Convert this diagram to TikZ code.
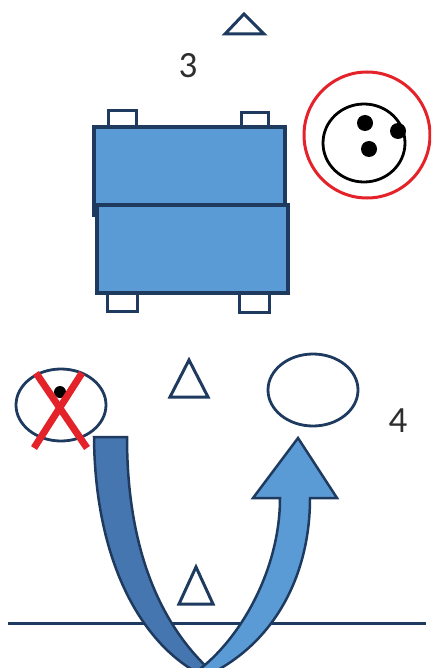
\documentclass[tikz,border=0pt]{standalone}
\usepackage{fontspec}
\setmainfont{Carlito}
\usetikzlibrary{shapes.geometric}
\definecolor{boxblue}{HTML}{5B9BD5}
\definecolor{armblue}{HTML}{4676B0}
\definecolor{navy}{HTML}{1F3A5F}
\definecolor{markred}{HTML}{E3222A}
\definecolor{numgray}{HTML}{2E2E2E}

\begin{document}
\begin{tikzpicture}[
  x=1pt, y=-1pt,
  outline/.style={draw=navy, line width=3.5pt, line join=miter},
  block/.style={outline, fill=boxblue},
  tab/.style={outline, fill=white, line width=3pt},
  marker/.style={draw=navy, line width=3pt, line join=miter},
  hole/.style={ellipse, draw=navy, line width=2.8pt, minimum width=90pt, minimum height=72pt},
  ring/.style={circle, draw=markred, line width=3pt, minimum size=126pt},
  dot/.style={circle, fill=black, inner sep=0pt, minimum size=16pt},
  cross/.style={draw=markred, line width=7pt},
  numtext/.style={font=\fontsize{37}{40}\selectfont, text=numgray}
]
\clip (0,0) rectangle (431,668);

\node[numtext] (three) at (188,66) {3};
\node[numtext] (four) at (398,421) {4};

\draw[marker] (244,14) -- (264,34) -- (225,34) -- cycle;
\draw[marker] (189,360) -- (208,397) -- (170,397) -- cycle;
\draw[marker] (196,567) -- (213,604) -- (179,604) -- cycle;

\draw[tab] (108,111) rectangle (136,130);
\draw[tab] (241,113) rectangle (268,130);
\draw[tab] (107,290) rectangle (137,311);
\draw[tab] (239,290) rectangle (269,312);
\draw[block] (94,127) rectangle (285,215);
\draw[block] (97,205) rectangle (288,293);

\node[ring] (bag) at (367,135) {};
\node[ellipse, draw=black, line width=2.8pt, minimum width=82pt, minimum height=78pt] (ball) at (364,143) {};
\node[dot] (d1) at (365,123) {};
\node[dot] (d2) at (398,131) {};
\node[dot] (d3) at (369,149) {};

\node[hole] (old) at (61,405) {};
\node[dot, minimum size=12pt] (pin) at (60,392) {};
\draw[cross] (36,373) -- (87,448);
\draw[cross] (82,373) -- (34,448);
\node[hole] (new) at (313,390) {};

\draw[navy, line width=3pt] (8,623) -- (426,623);

\draw[outline, line width=2.5pt, fill=armblue] (94,437) .. controls (95,560) and (140,640) .. (196,672)
  -- (212,672) .. controls (155,620) and (127,540) .. (127,437) -- cycle;
\draw[outline, line width=2.5pt, fill=boxblue] (196,672) .. controls (240,640) and (280,570) .. (280,498)
  -- (253,498) -- (298,438) -- (337,498) -- (310,498)
  .. controls (310,575) and (275,640) .. (214,672) -- cycle;
\end{tikzpicture}
\end{document}
